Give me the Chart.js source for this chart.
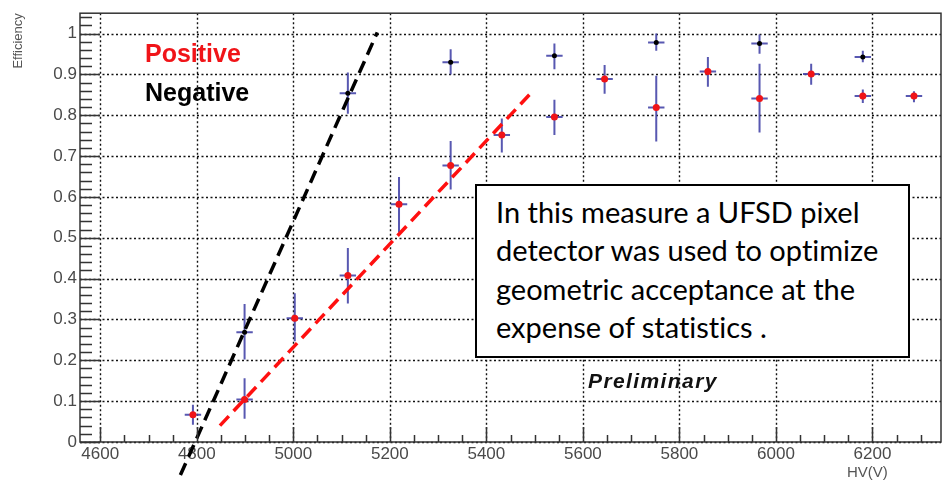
<!DOCTYPE html>
<html>
<head>
<meta charset="utf-8">
<script src="https://cdn.jsdelivr.net/npm/chart.js@4.4.1/dist/chart.umd.min.js"></script>
<style>
  body { margin: 0; background: #fff; }
  #wrap { position: relative; width: 948px; height: 484px; }
  .lbl { position: absolute; white-space: nowrap; font-family: "Liberation Sans", Arial, sans-serif; line-height: 1; }
  #note {
    position: absolute; left: 475px; top: 184px; width: 435px; height: 174px;
    box-sizing: border-box; border: 2px solid #000; background: #fff;
    padding: 7px 0 0 19px; font-family: Lato, sans-serif; font-size: 29px;
    font-variant-ligatures: none;
    line-height: 38.3px; color: #000; white-space: nowrap;
  }
</style>
</head>
<body>
<div id="wrap">
  <canvas id="eff-chart" width="948" height="484"></canvas>
  <div class="lbl" style="left:145px;top:41px;font-size:25px;font-weight:bold;color:#f01418;">Positive</div>
  <div class="lbl" style="left:145px;top:80px;font-size:25px;font-weight:bold;color:#000;">Negative</div>
  <div class="lbl" style="left:588px;top:370px;font-size:21px;font-weight:bold;font-style:italic;letter-spacing:1.4px;color:#111;">Preliminary</div>
  <div class="lbl" style="left:847px;top:464px;font-size:15px;color:#555;">HV(V)</div>
  <div id="note">In this measure a UFSD pixel<br>detector was used to optimize<br>geometric acceptance at the<br>expense of statistics .</div>
</div>
<script>
// efficiency vs bias voltage, positive and negative polarity
const posHV = [4792, 4899, 5003, 5113, 5219, 5326, 5432, 5541, 5645, 5752, 5859, 5966, 6073, 6180, 6286];
const posEff = [0.067, 0.104, 0.303, 0.408, 0.582, 0.677, 0.752, 0.796, 0.889, 0.819, 0.907, 0.841, 0.901, 0.847, 0.847];
const posErrHi = [0.024, 0.052, 0.061, 0.067, 0.067, 0.060, 0.040, 0.042, 0.034, 0.078, 0.036, 0.085, 0.025, 0.016, 0.012];
const posErrLo = [0.025, 0.047, 0.056, 0.069, 0.069, 0.059, 0.043, 0.044, 0.036, 0.083, 0.037, 0.083, 0.026, 0.017, 0.015];

const negHV = [4899, 5113, 5326, 5541, 5752, 5966, 6180];
const negEff = [0.269, 0.854, 0.930, 0.946, 0.978, 0.976, 0.943];
const negErrHi = [0.069, 0.051, 0.032, 0.030, 0.022, 0.022, 0.015];
const negErrLo = [0.067, 0.050, 0.030, 0.033, 0.020, 0.025, 0.013];

const hvErr = 17;

// straight-line guides drawn over the turn-on
const negFitHV = [4766, 5174];
const negFitEff = [-0.081, 1.003];
const posFitHV = [4848, 5496];
const posFitEff = [0.040, 0.859];

const xTicks = [4600, 4800, 5000, 5200, 5400, 5600, 5800, 6000, 6200];
const xTickLabels = ['4600', '4800', '5000', '5200', '5400', '5600', '5800', '6000', '6200'];
const yTicks = [0, 0.1, 0.2, 0.3, 0.4, 0.5, 0.6, 0.7, 0.8, 0.9, 1];
const yTickLabels = ['0', '0.1', '0.2', '0.3', '0.4', '0.5', '0.6', '0.7', '0.8', '0.9', '1'];

const toPoints = (xs, ys) => xs.map((v, i) => ({ x: v, y: ys[i] }));
const labelFor = (ticks, labels) => (v) => labels[ticks.findIndex(t => Math.abs(t - v) < 1e-6)];

// dotted grid + error bars under the markers
const errorBars = {
    id: 'errorBars',
    beforeDatasetsDraw(chart) {
        const { ctx, chartArea: a, scales: { x, y } } = chart;
        ctx.save();
        ctx.strokeStyle = '#111';
        ctx.lineWidth = 1.4;
        ctx.setLineDash([2, 2.5]);
        ctx.beginPath();
        xTicks.forEach(v => {
            const px = Math.round(x.getPixelForValue(v)) + 0.5;
            ctx.moveTo(px, a.top);
            ctx.lineTo(px, a.bottom);
        });
        yTicks.forEach(v => {
            const py = Math.round(y.getPixelForValue(v)) + 0.5;
            ctx.moveTo(a.left, py);
            ctx.lineTo(a.right, py);
        });
        ctx.stroke();
        ctx.setLineDash([]);

        ctx.strokeStyle = 'rgba(70, 70, 168, 0.9)';
        ctx.lineWidth = 2;
        const draw = (hv, eff, lo, hi) => {
            hv.forEach((v, i) => {
                const px = x.getPixelForValue(v);
                const py = y.getPixelForValue(eff[i]);
                ctx.beginPath();
                ctx.moveTo(px, y.getPixelForValue(eff[i] + hi[i]));
                ctx.lineTo(px, y.getPixelForValue(eff[i] - lo[i]));
                ctx.moveTo(x.getPixelForValue(v - hvErr), py);
                ctx.lineTo(x.getPixelForValue(v + hvErr), py);
                ctx.stroke();
            });
        };
        draw(posHV, posEff, posErrLo, posErrHi);
        draw(negHV, negEff, negErrLo, negErrHi);
        ctx.restore();
    }
};

// frame with inward ticks
const frame = {
    id: 'frame',
    afterDraw(chart) {
        const { ctx, chartArea: a, scales: { x, y } } = chart;
        ctx.save();
        ctx.strokeStyle = '#333';
        ctx.lineWidth = 1.5;
        ctx.beginPath();
        for (let v = 4600; v <= 6300; v += 50) {
            const px = Math.round(x.getPixelForValue(v)) + 0.5;
            const len = v % 200 === 0 ? 15 : 7;
            ctx.moveTo(px, a.bottom);
            ctx.lineTo(px, a.bottom - len);
        }
        for (let k = 0; k <= 52; k++) {
            const py = Math.round(y.getPixelForValue(k * 0.02)) + 0.5;
            const len = k % 5 === 0 ? 20 : 12;
            ctx.moveTo(a.left, py);
            ctx.lineTo(a.left + len, py);
        }
        ctx.stroke();
        ctx.strokeRect(a.left, a.top, a.right - a.left, a.bottom - a.top);
        ctx.restore();
    }
};

const tickFont = { family: '"Liberation Sans", Arial, sans-serif', size: 17 };

const chart = new Chart(document.getElementById('eff-chart'), {
    type: 'scatter',
    data: {
        datasets: [
            {
                type: 'line',
                label: 'Negative fit',
                data: toPoints(negFitHV, negFitEff),
                borderColor: '#000',
                borderWidth: 3.5,
                borderDash: [13, 7],
                pointRadius: 0,
                clip: false,
                order: 0
            },
            {
                type: 'line',
                label: 'Positive fit',
                data: toPoints(posFitHV, posFitEff),
                borderColor: '#ff1010',
                borderWidth: 3.5,
                borderDash: [13, 7],
                pointRadius: 0,
                clip: false,
                order: 0
            },
            {
                label: 'Positive',
                data: toPoints(posHV, posEff),
                backgroundColor: '#f01418',
                borderWidth: 0,
                pointRadius: 3.5,
                order: 1
            },
            {
                label: 'Negative',
                data: toPoints(negHV, negEff),
                backgroundColor: '#000',
                borderWidth: 0,
                pointRadius: 2.5,
                order: 1
            }
        ]
    },
    options: {
        responsive: false,
        animation: false,
        devicePixelRatio: 1,
        layout: { padding: { top: 9, right: 7, left: 0, bottom: 0 } },
        plugins: { legend: { display: false }, tooltip: { enabled: false } },
        scales: {
            x: {
                type: 'linear',
                min: 4558,
                max: 6342,
                afterBuildTicks: (s) => { s.ticks = xTicks.map(v => ({ value: v })); },
                afterFit: (s) => { s.height = 42; },
                ticks: { font: tickFont, color: '#4a4a4a', padding: 2, maxRotation: 0, callback: labelFor(xTicks, xTickLabels) },
                grid: { display: false, drawTicks: false },
                border: { display: false }
            },
            y: {
                type: 'linear',
                min: 0,
                max: 1.05,
                afterBuildTicks: (s) => { s.ticks = yTicks.map(v => ({ value: v })); },
                afterFit: (s) => { s.width = 80; },
                ticks: { font: tickFont, color: '#4a4a4a', padding: 3, callback: labelFor(yTicks, yTickLabels) },
                grid: { display: false, drawTicks: false },
                border: { display: false },
                title: {
                    display: true,
                    text: 'Efficiency',
                    align: 'end',
                    color: '#555',
                    font: { family: '"Liberation Sans", Arial, sans-serif', size: 13 },
                    padding: { top: 11 }
                }
            }
        }
    },
    plugins: [errorBars, frame]
});
</script>
</body>
</html>
